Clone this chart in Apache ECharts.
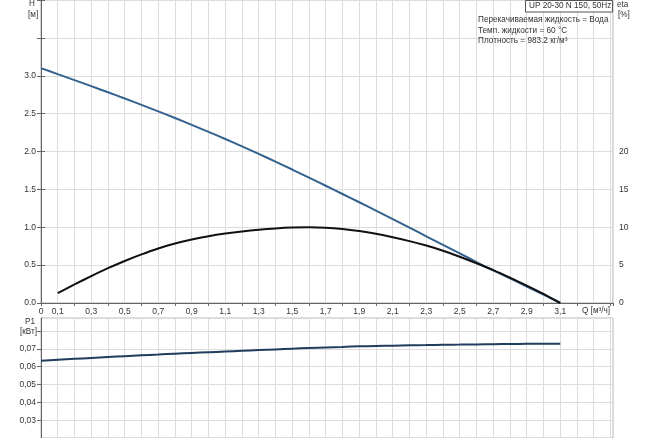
<!DOCTYPE html>
<html>
<head>
<meta charset="utf-8">
<script src="https://cdn.jsdelivr.net/npm/echarts@6/dist/echarts.min.js"></script>
<style>
html,body{margin:0;padding:0;background:#fff;}
#chart{width:650px;height:438px;}
</style>
</head>
<body>
<div id="chart"></div>
<script>
// Q [м3/ч]
var flowQ = [0, 0.1, 0.2, 0.3, 0.4, 0.5, 0.6, 0.7, 0.8, 0.9, 1.0, 1.1, 1.2, 1.3, 1.4, 1.5,
	1.6, 1.7, 1.8, 1.9, 2.0, 2.1, 2.2, 2.3, 2.4, 2.5, 2.6, 2.7, 2.8, 2.9, 3.0, 3.1];
// H [м]
var headH = [3.100, 3.022, 2.943, 2.863, 2.782, 2.700, 2.616, 2.530, 2.442, 2.352, 2.260, 2.165,
	2.068, 1.968, 1.866, 1.762, 1.656, 1.548, 1.439, 1.330, 1.220, 1.108, 0.995, 0.880, 0.768,
	0.655, 0.540, 0.430, 0.325, 0.218, 0.110, 0.000];
// eta [%], начинается с Q = 0.1
var etaQ = [0.1, 0.2, 0.3, 0.4, 0.5, 0.6, 0.7, 0.8, 0.9, 1.0, 1.1, 1.2, 1.3, 1.4, 1.5,
	1.6, 1.7, 1.8, 1.9, 2.0, 2.1, 2.2, 2.3, 2.4, 2.5, 2.6, 2.7, 2.8, 2.9, 3.0, 3.1];
var etaPct = [1.3, 2.45, 3.55, 4.6, 5.55, 6.42, 7.2, 7.85, 8.38, 8.82, 9.17, 9.45, 9.68, 9.85, 9.96,
	10.0, 9.95, 9.78, 9.5, 9.13, 8.68, 8.17, 7.58, 6.9, 6.1, 5.25, 4.35, 3.35, 2.3, 1.2, 0.0];
// P1 [кВт]
var powerP1 = [0.0633, 0.0639, 0.0644, 0.0649, 0.0654, 0.0659, 0.0664, 0.0668, 0.0673, 0.0677, 0.0681,
	0.0685, 0.0689, 0.0693, 0.0697, 0.0701, 0.0705, 0.0708, 0.0711, 0.0714, 0.0716, 0.0718, 0.0720,
	0.0721, 0.0723, 0.0724, 0.0725, 0.0726, 0.0727, 0.0728, 0.0728, 0.0729];

// подписи осей
var qTickLabels = ['0', '0,1', '0,3', '0,5', '0,7', '0,9', '1,1', '1,3', '1,5', '1,7', '1,9',
	'2,1', '2,3', '2,5', '2,7', '2,9', '3,1'];
var hTickLabels = ['0.0', '0.5', '1.0', '1.5', '2.0', '2.5', '3.0'];
var etaTickLabels = ['0', '5', '10', '15', '20'];
var p1TickLabels = ['0,03', '0,04', '0,05', '0,06', '0,07'];

var infoLines = ['Перекачиваемая жидкость = Вода', 'Темп. жидкости = 60 °C', 'Плотность = 983.2 кг/м³'];

function pairs(xs, ys){
	return xs.map(function(x, i){ return [x, ys[i]]; });
}

var FONT = 'Liberation Sans, Arial, sans-serif';
var TXT = '#333';
var AXIS = '#666';
var GRIDLINE = '#dcdcdc';
var QMAX = 3.415;

var chart = echarts.init(document.getElementById('chart'), null, {renderer: 'canvas'});

var lbl = {fontSize: 8.5, color: TXT, fontFamily: FONT};

function txt(s, x, y){
	return {type: 'text', left: x, top: y, z: 11, style: {text: s, fontSize: 8.2, fill: TXT, fontFamily: FONT}};
}

var option = {
	animation: false,
	backgroundColor: '#fff',
	grid: [
		{left: 41, right: 37, top: 0, height: 303, show: true, borderColor: '#aaa', borderWidth: 1},
		{left: 41, right: 37, top: 318, height: 124, show: true, borderColor: '#bbb', borderWidth: 1}
	],
	xAxis: [
		{
			type: 'value', gridIndex: 0, min: 0, max: QMAX, interval: 0.1,
			axisLine: {show: true, onZero: false, lineStyle: {color: AXIS}},
			axisTick: {show: false},
			splitLine: {show: true, lineStyle: {color: GRIDLINE}},
			axisLabel: Object.assign({}, lbl, {
				margin: 4,
				showMaxLabel: false,
				formatter: function(v){
					var s = v === 0 ? '0' : (Math.round(v * 10) / 10).toFixed(1).replace('.', ',');
					return qTickLabels.indexOf(s) >= 0 ? s : '';
				}
			})
		},
		{
			type: 'value', gridIndex: 1, min: 0, max: QMAX, interval: 0.1,
			axisLine: {show: false},
			axisTick: {show: false},
			axisLabel: {show: false},
			splitLine: {show: true, lineStyle: {color: GRIDLINE}}
		},
		{
			// только засечки через 0.2 под осью Q
			type: 'value', gridIndex: 0, position: 'bottom', min: 0, max: QMAX, interval: 0.2,
			axisLine: {show: false},
			axisLabel: {show: false},
			splitLine: {show: false},
			axisTick: {show: true, length: 3, lineStyle: {color: AXIS}}
		}
	],
	yAxis: [
		{
			type: 'value', gridIndex: 0, min: 0, max: 4, interval: 0.5,
			axisLine: {show: true, lineStyle: {color: AXIS}},
			axisTick: {show: true, length: 4, lineStyle: {color: AXIS}},
			splitLine: {show: true, lineStyle: {color: GRIDLINE}},
			axisLabel: Object.assign({}, lbl, {
				margin: 5,
				formatter: function(v){
					var s = v.toFixed(1);
					return hTickLabels.indexOf(s) >= 0 ? s : '';
				}
			})
		},
		{
			type: 'value', gridIndex: 0, position: 'right', min: 0, max: 40, interval: 5,
			axisLine: {show: true, lineStyle: {color: AXIS}},
			axisTick: {show: true, length: 4, lineStyle: {color: AXIS}},
			splitLine: {show: false},
			axisLabel: Object.assign({}, lbl, {
				margin: 6,
				formatter: function(v){
					var s = String(Math.round(v));
					return etaTickLabels.indexOf(s) >= 0 ? s : '';
				}
			})
		},
		{
			type: 'value', gridIndex: 1, min: 0.02, max: 0.0873, interval: 0.01,
			axisLine: {show: true, lineStyle: {color: AXIS}},
			axisTick: {show: true, length: 4, lineStyle: {color: AXIS}},
			splitLine: {show: true, lineStyle: {color: GRIDLINE}},
			axisLabel: Object.assign({}, lbl, {
				margin: 5,
				showMaxLabel: false,
				formatter: function(v){
					var s = (Math.round(v * 100) / 100).toFixed(2).replace('.', ',');
					return p1TickLabels.indexOf(s) >= 0 ? s : '';
				}
			})
		}
	],
	series: [
		{
			name: 'H', type: 'line', xAxisIndex: 0, yAxisIndex: 0,
			data: pairs(flowQ, headH), smooth: 0.2, showSymbol: false,
			lineStyle: {color: '#33628f', width: 2}
		},
		{
			name: 'eta', type: 'line', xAxisIndex: 0, yAxisIndex: 1,
			data: pairs(etaQ, etaPct), smooth: 0.2, showSymbol: false,
			lineStyle: {color: '#111', width: 2}
		},
		{
			name: 'P1', type: 'line', xAxisIndex: 1, yAxisIndex: 2,
			data: pairs(flowQ, powerP1), smooth: 0.2, showSymbol: false,
			lineStyle: {color: '#1f3d5c', width: 2}
		}
	],
	graphic: [
		txt('H', 29, 0),
		txt('[м]', 28, 11),
		txt('eta', 617, 1),
		txt('[%]', 618, 11),
		txt('P1', 25, 318),
		txt('[кВт]', 20, 328),
		txt('Q [м³/ч]', 582, 307),
		{
			type: 'rect', shape: {x: 525.5, y: 0.5, width: 87, height: 11.5},
			style: {fill: '#fff', stroke: '#555', lineWidth: 1}, z: 10
		},
		txt('UP 20-30 N 150, 50Hz', 529, 2),
		txt(infoLines[0], 478, 16),
		txt(infoLines[1], 478, 27),
		txt(infoLines[2], 478, 37)
	]
};

chart.setOption(option);
</script>
</body>
</html>
